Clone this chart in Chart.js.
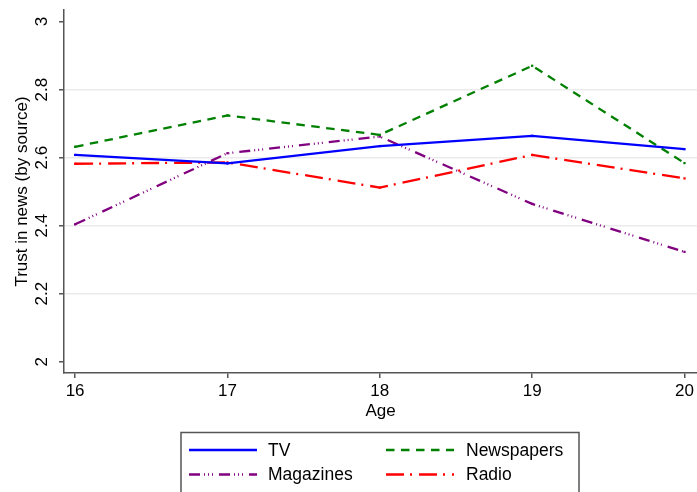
<!DOCTYPE html>
<html>
<head>
<meta charset="utf-8">
<script src="https://cdn.jsdelivr.net/npm/chart.js@4/dist/chart.umd.min.js"></script>
<style>
  html, body { margin: 0; padding: 0; background: #fff; }
  #wrap { width: 697px; height: 492px; }
</style>
</head>
<body>
<div id="wrap"><canvas id="c" width="697" height="492"></canvas></div>
<script>
// Mean trust in news by source, by age
const ages = [16, 17, 18, 19, 20];
const tv = [2.608, 2.583, 2.634, 2.664, 2.625];
const newspapers = [2.632, 2.724, 2.667, 2.870, 2.584];
const magazines = [2.404, 2.613, 2.662, 2.464, 2.323];
const radio = [2.582, 2.586, 2.512, 2.608, 2.539];

const yTicks = [2, 2.2, 2.4, 2.6, 2.8, 3];
const yTickLabels = ['2', '2.2', '2.4', '2.6', '2.8', '3'];
const xTickLabels = ['16', '17', '18', '19', '20'];

const FONT = "'Liberation Sans', Arial, Helvetica, sans-serif";
const AXIS = '#555555';

function pts(vals) {
  return ages.map((a, i) => ({ x: a, y: vals[i] }));
}

function series(label, vals, color, dash) {
  return {
    label: label,
    data: pts(vals),
    borderColor: color,
    backgroundColor: color,
    borderWidth: 2.3,
    borderDash: dash,
    pointStyle: 'rect',
    pointRadius: 1.6,
    pointBorderWidth: 0,
    tension: 0,
    fill: false
  };
}

// Boxed two-column legend under the x axis
const boxLegend = {
  id: 'boxLegend',
  afterDraw(chart) {
    const ctx = chart.ctx;
    ctx.save();
    ctx.strokeStyle = AXIS;
    ctx.lineWidth = 1.5;
    ctx.strokeRect(181, 432.5, 398, 80);
    const cols = [{ x0: 189, x1: 257, tx: 268 }, { x0: 386, x1: 454, tx: 466 }];
    const rows = [450, 474.5];
    chart.data.datasets.forEach((ds, i) => {
      const c = cols[i % 2];
      const y = rows[Math.floor(i / 2)];
      ctx.beginPath();
      ctx.strokeStyle = ds.borderColor;
      ctx.lineWidth = ds.borderWidth;
      ctx.setLineDash(ds.borderDash || []);
      ctx.lineDashOffset = 0;
      ctx.moveTo(c.x0, y);
      ctx.lineTo(c.x1, y);
      ctx.stroke();
      ctx.setLineDash([]);
      ctx.fillStyle = '#000';
      ctx.font = '17.5px ' + FONT;
      ctx.textBaseline = 'middle';
      ctx.textAlign = 'left';
      ctx.fillText(ds.label, c.tx, y + 1);
    });
    ctx.restore();
  }
};

function noEdgePadding(scale) {
  scale.paddingLeft = 0;
  scale.paddingRight = 0;
  scale.paddingTop = 0;
  scale.paddingBottom = 0;
}

new Chart(document.getElementById('c'), {
  type: 'line',
  data: {
    datasets: [
      series('TV', tv, '#0000ff', []),
      series('Newspapers', newspapers, '#008000', [8.5, 6.5]),
      series('Magazines', magazines, '#800080', [11, 4, 1, 3, 1, 3, 1, 6]),
      series('Radio', radio, '#ff0000', [18, 6, 2, 7])
    ]
  },
  options: {
    responsive: false,
    animation: false,
    layout: { autoPadding: false, padding: { top: 10, right: 0, bottom: 60, left: 0 } },
    plugins: { legend: { display: false }, tooltip: { enabled: false } },
    scales: {
      x: {
        type: 'linear',
        min: 15.927,
        max: 20.082,
        afterBuildTicks(scale) { scale.ticks = ages.map(v => ({ value: v })); },
        afterFit(scale) { scale.height = 59; noEdgePadding(scale); },
        ticks: {
          color: '#000',
          font: { family: FONT, size: 17 },
          padding: 3,
          maxRotation: 0,
          callback: (v) => xTickLabels[ages.indexOf(v)]
        },
        grid: { drawOnChartArea: false, drawTicks: true, tickLength: 5, tickColor: AXIS, lineWidth: 1.5 },
        border: { display: true, color: AXIS, width: 1.5 },
        title: {
          display: true,
          text: 'Age',
          color: '#000',
          font: { family: FONT, size: 17 },
          padding: { top: 0, bottom: 10 }
        }
      },
      y: {
        type: 'linear',
        min: 1.967,
        max: 3.034,
        afterBuildTicks(scale) { scale.ticks = yTicks.map(v => ({ value: v })); },
        afterFit(scale) { scale.width = 64; noEdgePadding(scale); },
        ticks: {
          color: '#000',
          font: { family: FONT, size: 17 },
          padding: 4.4,
          minRotation: 90,
          maxRotation: 90,
          crossAlign: 'center',
          callback: (v) => yTickLabels[yTicks.indexOf(v)]
        },
        grid: {
          color: (c) => (c.tick && (c.tick.value === 2 || c.tick.value === 3)) ? 'rgba(0,0,0,0)' : '#ebebeb',
          lineWidth: 1.5,
          drawTicks: true,
          tickLength: 5,
          tickColor: AXIS
        },
        border: { display: true, color: AXIS, width: 1.5 },
        title: {
          display: true,
          text: 'Trust in news (by source)',
          color: '#000',
          font: { family: FONT, size: 17 },
          padding: { top: 12, bottom: 0 }
        }
      }
    }
  },
  plugins: [boxLegend]
});
</script>
</body>
</html>
